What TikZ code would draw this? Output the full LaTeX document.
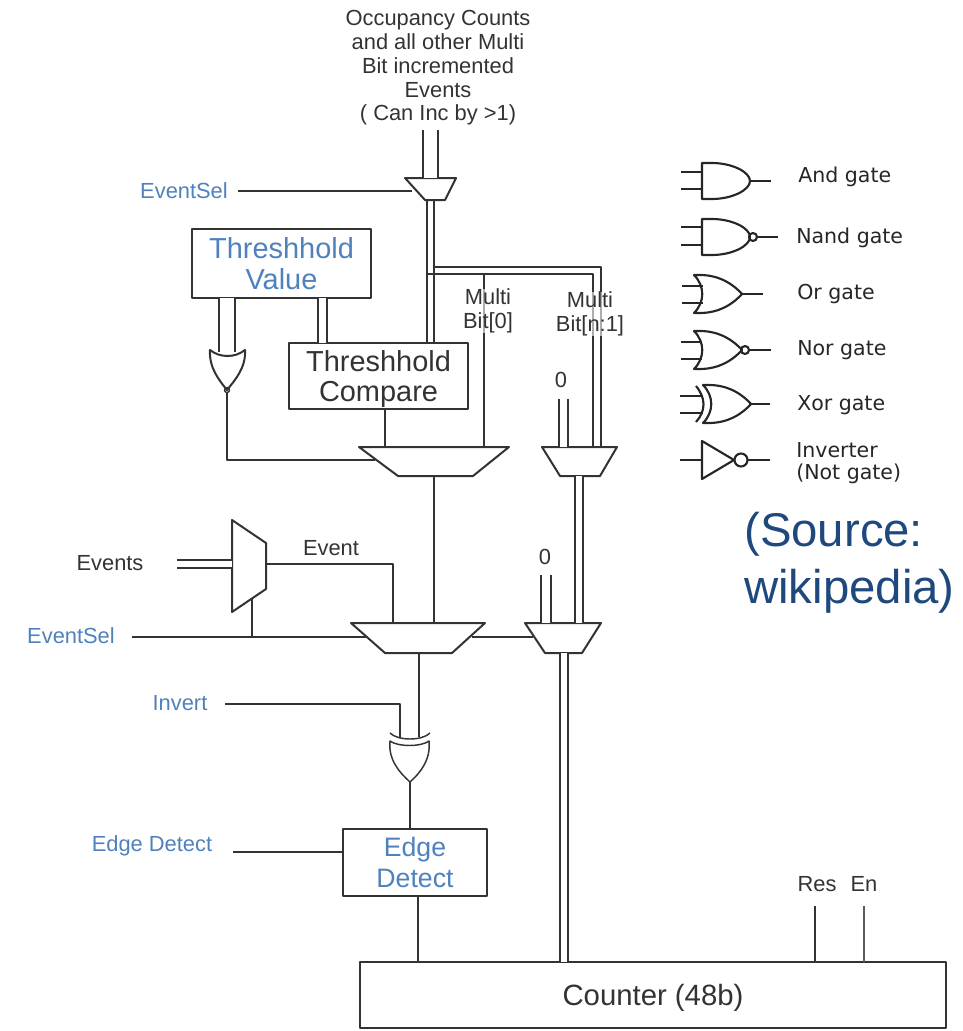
\documentclass[tikz,border=0pt]{standalone}
\usepackage{fontspec}
\setmainfont{Liberation Sans}
\newfontfamily\legendfont{DejaVu Sans}
\usepackage{xcolor}
\usetikzlibrary{positioning}
\definecolor{wireink}{HTML}{333333}
\definecolor{labelblue}{HTML}{4F81BD}
\definecolor{sourceblue}{HTML}{1F497D}
\tikzset{
  wire/.style={draw=wireink,line width=1.5pt,line join=round},
  thin wire/.style={draw=wireink,line width=1.1pt,line join=round},
  gateink/.style={draw=black!85,line width=1.6pt,line join=round},
  bus/.style={wire,double=white,double distance=#1},
  small/.style={text=wireink,font=\fontsize{16.4}{17.8}\selectfont,align=center,inner sep=0pt},
  sel/.style={small,text=labelblue},
  boxtext/.style={wire,fill=white,font=\fontsize{21.7}{23}\selectfont,align=center,inner sep=0pt,text=wireink},
  legend/.style={text=black!85,font=\legendfont\fontsize{15.4}{18.5}\selectfont,align=left,anchor=west,inner sep=0pt},
  pics/andbody/.style={code={
    \draw[gateink] (0,-18) -- (10,-18) .. controls (30,-18) and (48,-9) .. (48,0)
      .. controls (48,9) and (30,18) .. (10,18) -- (0,18) -- cycle;
  }},
  pics/orbody/.style={code={
    \draw[gateink] (0,-19) -- (6,-19) .. controls (26,-19) and (40,-9) .. (48,0)
      .. controls (40,9) and (26,19) .. (6,19) -- (0,19)
      .. controls (11,8) and (11,-8) .. (0,-19) -- cycle;
  }},
}
\begin{document}
\begin{tikzpicture}[x=0.75pt,y=-0.75pt]
 \useasboundingbox (0,0) rectangle (963,1031);

 \node[small] (toplabel) at (438,68) {Occupancy Counts\\and all other Multi\\Bit incremented\\Events\\( Can Inc by >1)};
 \node[sel] (eventselA) at (184,191) {EventSel};
 \node[sel] (eventselB) at (71,636) {EventSel};
 \node[small] (events) at (110,563) {Events};
 \node[small] (event) at (331,548) {Event};
 \node[sel] (invert) at (180,703) {Invert};
 \node[sel] (edgelabel) at (152,846) {Edge Detect};
 \node[small] (res) at (817,884) {Res};
 \node[small] (en) at (864,884) {En};
 \node[small] (zeroA) at (561,380) {0};
 \node[small] (zeroB) at (545,557) {0};

 \node[boxtext,minimum width=134.25pt,minimum height=51.75pt,text=labelblue] (value) at (281.5,263.5) {Threshhold\\Value};
 \node[boxtext,minimum width=134.25pt,minimum height=50pt,text depth=0pt] (compare) at (378.5,376) {Threshhold\\Compare};
 \node[boxtext,minimum width=108pt,minimum height=50pt,text=labelblue,font=\fontsize{20}{23}\selectfont] (edge) at (415,862.5) {Edge\\Detect};
 \node[boxtext,minimum width=439.5pt,minimum height=49.5pt,text depth=0pt,font=\fontsize{22}{23}\selectfont] (counter) at (653,995) {Counter (48b)};

 \draw[wire] (405,178) -- (456,178) -- (445,200) -- (425,200) -- cycle;
 \draw[wire] (359,447) -- (509,447) -- (473,476) -- (398,476) -- cycle;
 \draw[wire] (542,447) -- (617,447) -- (600,476) -- (560,476) -- cycle;
 \draw[wire] (232,520) -- (266,543) -- (266,589) -- (232,612) -- cycle;
 \draw[wire] (351,623) -- (485,623) -- (452,653) -- (385,653) -- cycle;
 \draw[wire] (525,623) -- (601,623) -- (582,653) -- (545,653) -- cycle;

 \draw[wire] (210,350) .. controls (220,358) and (235,358) .. (245,350)
   .. controls (246,368) and (235,380) .. (227,390)
   .. controls (219,380) and (209,368) .. (210,350) -- cycle;
 \draw[thin wire] (227,390) circle (2.5);
 \draw[thin wire] (390,741) .. controls (398,747) and (421,747) .. (429,741)
   .. controls (431,760) and (420,773) .. (410,782)
   .. controls (400,773) and (388,760) .. (390,741) -- cycle;
 \draw[thin wire] (390,733) .. controls (398,741) and (422,741) .. (430,733);

 \coordinate (muxA) at (412,191);
 \coordinate (startA) at (238,191);
 \draw[wire] (startA) -- (muxA);
 \coordinate (topin) at (430.5,130);
 \coordinate (topmux) at (430.5,178);
 \draw[bus=9.75pt] (topin) -- (topmux);

 \draw[wire] (427,200) -- (427,343);
 \draw[wire] (434,200) -- (434,343);
 \draw[wire] (434,267) -| (600.5,447);
 \draw[wire] (427,274) -| (593,447);
 \draw[wire] (484,274) -- (484,447);

 \draw[bus=10.5pt] (227,298) -- (227,352);
 \draw[bus=5.25pt] (322.5,298) -- (322.5,343);
 \draw[wire] (227,392) |- (375,460);
 \draw[wire] (385,410) -- (385,447);

 \draw[bus=5.6pt] (563.5,399) -- (563.5,447);
 \draw[wire] (434,476) -- (434,623);
 \draw[bus=4.5pt] (579,476) -- (579,623);

 \draw[bus=4.5pt] (177,564) -- (232,564);
 \draw[wire] (266,564) -| (393,623);
 \draw[wire] (132,637) -- (367,637);
 \draw[wire] (252,637) -- (252,598);
 \draw[wire] (472,637) -- (533,637);
 \draw[bus=5.6pt] (546,575) -- (546,623);

 \draw[wire] (419,653) -- (419,737);
 \draw[wire] (225,704) -| (400,738);
 \draw[bus=4.5pt] (564,653) -- (564,962);
 \draw[wire] (410,782) -- (410,829);
 \draw[wire] (233,852) -- (343,852);
 \draw[wire] (418,896) -- (418,962);
 \draw[wire] (815,906) -- (815,962);
 \draw[wire,line width=2pt,draw=wireink!80] (864,906) -- (864,962);

 \node[small,fill=white,fill opacity=.6,text opacity=1] (multiA) at (488,311) {Multi\\Bit[0]};
 \node[small,fill=white,fill opacity=.6,text opacity=1] (multiB) at (590,314) {Multi\\Bit[n:1]};

 \pic at (702,181) {andbody};
 \draw[gateink] (681,172) -- (702,172) (681,189) -- (702,189) (750,181) -- (771,181);
 \pic at (702,237) {andbody};
 \draw[gateink] (681,227) -- (702,227) (681,245) -- (702,245) (757,237) -- (778,237);
 \draw[gateink] (753,237) circle (4);
 \pic at (694,294) {orbody};
 \draw[gateink] (682,286) -- (703,286) (682,303) -- (703,303) (742,294) -- (763,294);
 \pic at (694,350) {orbody};
 \draw[gateink] (681,342) -- (702,342) (681,359) -- (702,359) (749,350) -- (771,350);
 \draw[gateink] (745,350) circle (4);
 \pic at (703,404) {orbody};
 \draw[gateink] (680,396) -- (703,396) (680,413) -- (703,413) (749,404) -- (770,404);
 \draw[gateink] (696,386) .. controls (706,398) and (706,411) .. (696,422);
 \draw[gateink] (702,441) -- (734,460) -- (702,479) -- cycle;
 \draw[gateink] (680,460) -- (702,460) (748,460) -- (770,460);
 \draw[gateink] (741,460) circle (6.5);

 \foreach \txt/\px/\py in {And gate/798/177,Nand gate/796/238,Or gate/797/294,Nor gate/797/350,Xor gate/797/405,Inverter/796/450,(Not gate)/796/474}
   \node[legend] at (\px,\py) {\txt};

 \node[text=sourceblue,font=\fontsize{35.5}{43}\selectfont,align=left,anchor=west,inner sep=0pt] (source) at (744,563) {(Source:\\wikipedia)};
\end{tikzpicture}
\end{document}
